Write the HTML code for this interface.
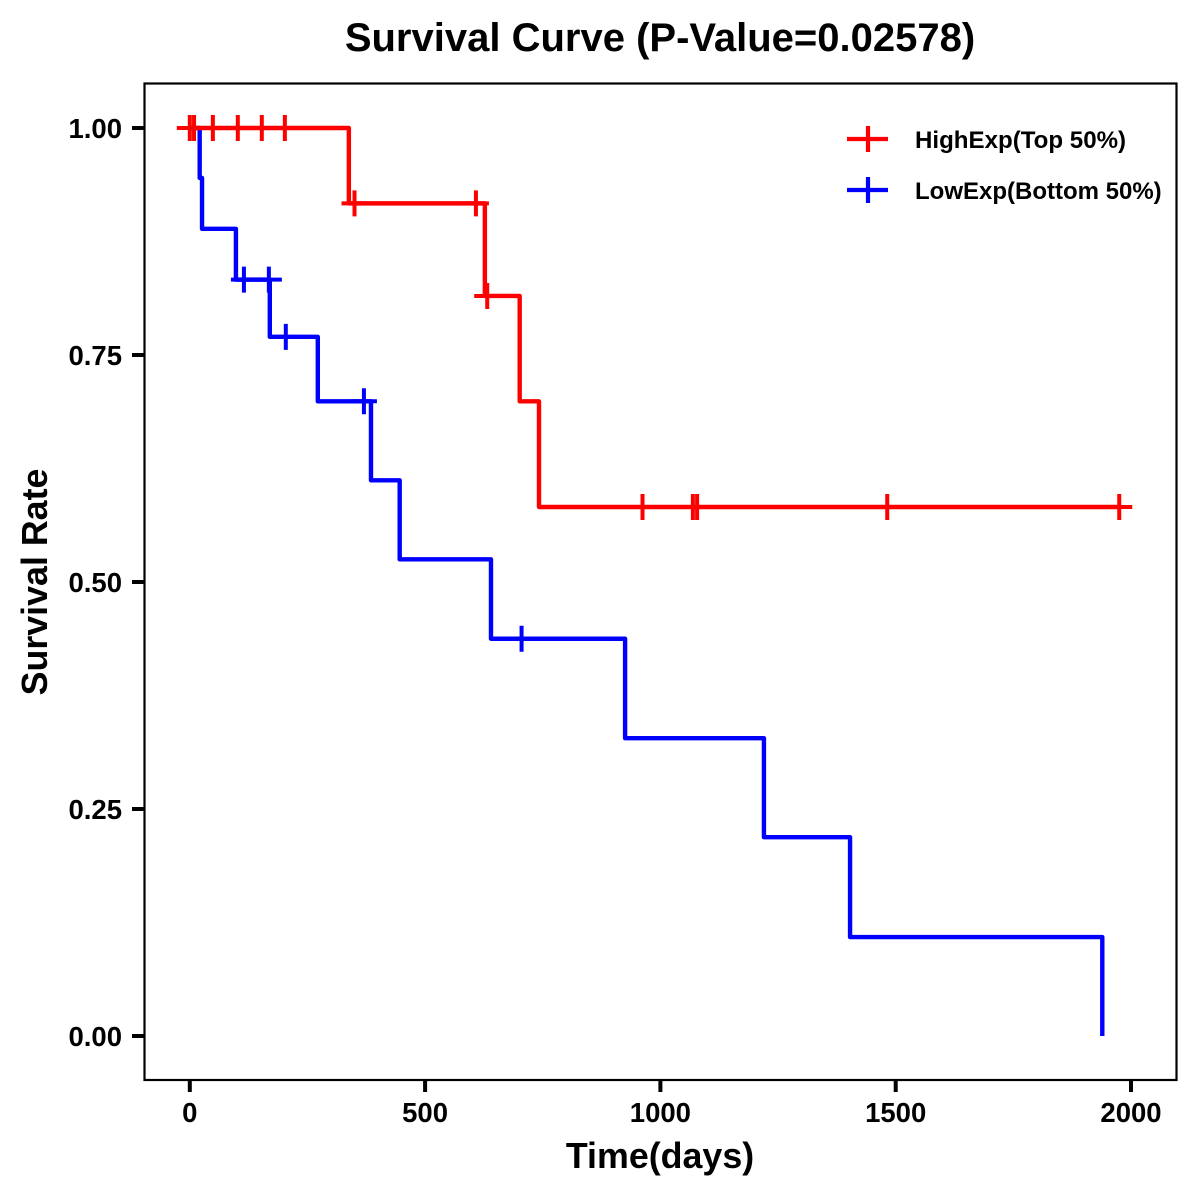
<!DOCTYPE html>
<html>
<head>
<meta charset="utf-8">
<title>Survival Curve</title>
<style>
html,body{margin:0;padding:0;background:#fff;}
svg{display:block;font-family:"Liberation Sans",Arial,sans-serif;font-weight:bold;}
</style>
</head>
<body>
<svg id="chart" xmlns="http://www.w3.org/2000/svg" width="1200" height="1200" viewBox="0 0 1200 1200">
<rect x="0" y="0" width="1200" height="1200" fill="#fff"/>
<text x="660" y="51" font-size="40" text-anchor="middle" fill="#000">Survival Curve (P-Value=0.02578)</text>
<text x="660" y="1168" font-size="35.8" text-anchor="middle" fill="#000">Time(days)</text>
<text transform="translate(47,582) rotate(-90)" font-size="35.8" text-anchor="middle" fill="#000">Survival Rate</text>
<g id="ticks"></g>
<g id="curves"></g>
<rect x="144.5" y="83.5" width="1032" height="996.5" fill="none" stroke="#000" stroke-width="2.2"/>
<g>
<g>
<path d="M847 139H888M868 126V152" stroke="#f00" stroke-width="4.2" fill="none"/>
<text x="915" y="148" font-size="24.1" fill="#000">HighExp(Top 50%)</text>
</g>
<g>
<path d="M847 190H888M868 177V203" stroke="#00f" stroke-width="4.2" fill="none"/>
<text x="915" y="199" font-size="24" fill="#000">LowExp(Bottom 50%)</text>
</g>
</g>
</svg>
<script>
const xTickValues = [0, 500, 1000, 1500, 2000];
const xTickLabels = ["0", "500", "1000", "1500", "2000"];
const yTickValues = [0, 0.25, 0.5, 0.75, 1];
const yTickLabels = ["0.00", "0.25", "0.50", "0.75", "1.00"];

const highTimes = [0, 338, 627, 701, 742, 1975];
const highSurvival = [1, 0.917, 0.815, 0.699, 0.5826, 0.5826];
const highCensorTimes = [0, 9, 49, 102, 153, 202, 350, 608, 632, 962, 1069, 1078, 1482, 1975];

const lowTimes = [0, 21, 26, 98, 170, 272, 385, 446, 640, 925, 1220, 1403, 1939];
const lowSurvival = [1, 0.945, 0.889, 0.833, 0.77, 0.699, 0.612, 0.525, 0.4375, 0.328, 0.219, 0.109, 0];
const lowCensorTimes = [115, 168, 204, 370, 705];

const NS = "http://www.w3.org/2000/svg";
function xScale(t) { return 189.8 + t * (1131 - 189.8) / 2000; }
function yScale(s) { return 1036 - s * (1036 - 128); }

function stepValue(times, values, t) {
  let v = values[0];
  for (let i = 0; i < times.length; i++) {
    if (times[i] <= t) v = values[i];
  }
  return v;
}
function stepPath(times, values) {
  let d = "M" + xScale(times[0]) + " " + yScale(values[0]);
  for (let i = 1; i < times.length; i++) {
    d += "H" + xScale(times[i]) + "V" + yScale(values[i]);
  }
  return d;
}

const tickGroup = document.getElementById("ticks");
const curveGroup = document.getElementById("curves");

xTickValues.forEach(function (v, i) {
  const x = xScale(v);
  const mark = document.createElementNS(NS, "line");
  
  
  mark.setAttribute("x1", x);
  mark.setAttribute("x2", x);
  mark.setAttribute("y1", 1080);
  mark.setAttribute("y2", 1092);
  mark.setAttribute("stroke", "#000");
  mark.setAttribute("stroke-width", 4);
  tickGroup.appendChild(mark);
  const label = document.createElementNS(NS, "text");
  
  
  label.setAttribute("x", x);
  label.setAttribute("y", 1122);
  label.setAttribute("font-size", 27.5);
  label.setAttribute("text-anchor", "middle");
  label.textContent = xTickLabels[i];
  tickGroup.appendChild(label);
});

yTickValues.forEach(function (v, i) {
  const y = yScale(v);
  const mark = document.createElementNS(NS, "line");
  
  
  mark.setAttribute("x1", 132);
  mark.setAttribute("x2", 144);
  mark.setAttribute("y1", y);
  mark.setAttribute("y2", y);
  mark.setAttribute("stroke", "#000");
  mark.setAttribute("stroke-width", 4);
  tickGroup.appendChild(mark);
  const label = document.createElementNS(NS, "text");
  
  
  label.setAttribute("x", 122);
  label.setAttribute("y", y + 10);
  label.setAttribute("font-size", 27.5);
  label.setAttribute("text-anchor", "end");
  label.textContent = yTickLabels[i];
  tickGroup.appendChild(label);
});

function drawLine(times, values, color, name) {
  const line = document.createElementNS(NS, "path");
  
  
  line.setAttribute("d", stepPath(times, values));
  line.setAttribute("fill", "none");
  line.setAttribute("stroke", color);
  line.setAttribute("stroke-width", 4.4);
  line.setAttribute("stroke-linejoin", "round");
  curveGroup.appendChild(line);
}
function drawCensors(censors, times, values, color, name) {
  censors.forEach(function (t) {
    const x = xScale(t);
    const y = yScale(stepValue(times, values, t));
    const mark = document.createElementNS(NS, "path");
    
    
    mark.setAttribute("d", "M" + (x - 13) + " " + y + "H" + (x + 13) + "M" + x + " " + (y - 13) + "V" + (y + 13));
    mark.setAttribute("fill", "none");
    mark.setAttribute("stroke", color);
    mark.setAttribute("stroke-width", 4);
    curveGroup.appendChild(mark);
  });
}

drawLine(lowTimes, lowSurvival, "#00f", "low-exp-curve");
drawLine(highTimes, highSurvival, "#f00", "high-exp-curve");
drawCensors(lowCensorTimes, lowTimes, lowSurvival, "#00f", "low-exp-censor-mark");
drawCensors(highCensorTimes, highTimes, highSurvival, "#f00", "high-exp-censor-mark");
</script>
</body>
</html>
